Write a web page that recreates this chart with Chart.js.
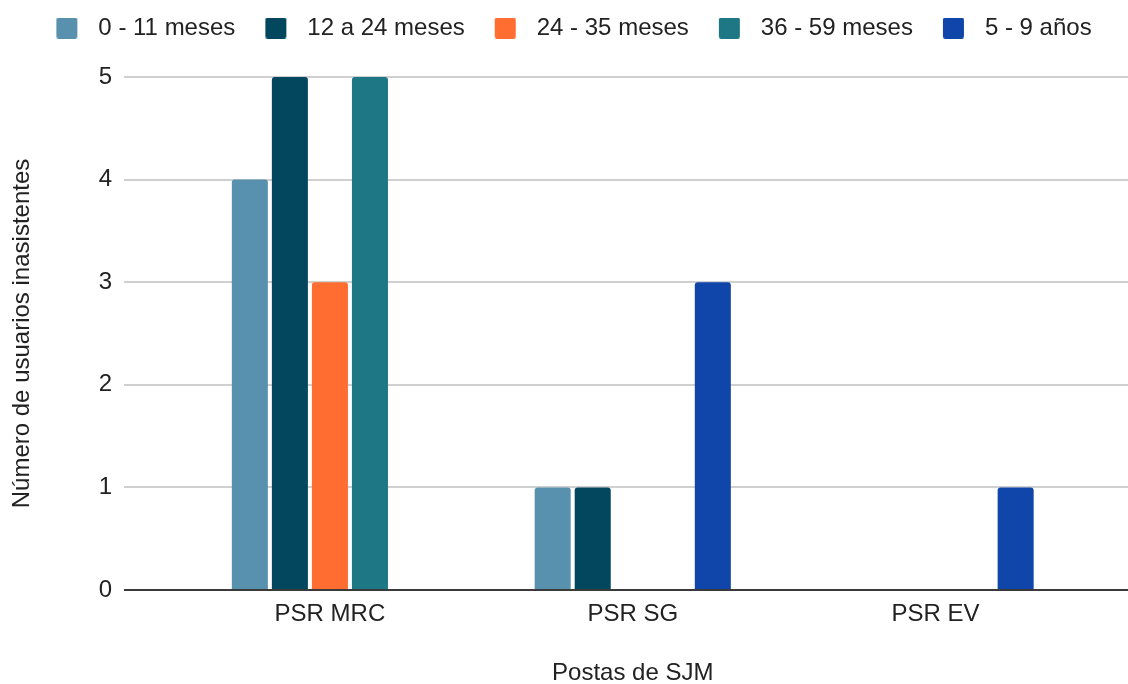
<!DOCTYPE html>
<html>
<head>
<meta charset="utf-8">
<script src="https://cdn.jsdelivr.net/npm/chart.js@4/dist/chart.umd.min.js"></script>
<style>
  html, body { margin: 0; padding: 0; background: #ffffff; }
  canvas { display: block; }
</style>
</head>
<body>
<canvas id="chart" width="1128" height="684"></canvas>
<script>
// Inasistentes por posta y grupo de edad
const categories = ['PSR MRC', 'PSR SG', 'PSR EV'];
const seriesNames = ['0 - 11 meses', '12 a 24 meses', '24 - 35 meses', '36 - 59 meses', '5 - 9 años'];
const meses0a11 = [4, 1, 0];
const meses12a24 = [5, 1, 0];
const meses24a35 = [3, 0, 0];
const meses36a59 = [5, 0, 0];
const anios5a9 = [0, 3, 1];
const yTickValues = [0, 1, 2, 3, 4, 5];

const seriesValues = [meses0a11, meses12a24, meses24a35, meses36a59, anios5a9];
const seriesColors = ['#5891ae', '#03475f', '#ff6d31', '#1d7785', '#1045a9'];

const FONT = '"Liberation Sans", Arial, sans-serif';
const TEXT = '#222222';
const GRID = '#d0d0d0';
const BASELINE = '#3a3a3a';

// Legend swatch: a rounded square with blank margins so spacing around it is controlled
function swatch(color) {
  const lead = 20, size = 21, trail = 9;
  const c = document.createElement('canvas');
  c.width = lead + size + trail;
  c.height = size;
  const g = c.getContext('2d');
  g.fillStyle = color;
  g.beginPath();
  g.roundRect(lead, 0, size, size, 2);
  g.fill();
  return c;
}
const swatches = seriesColors.map(swatch);

// Fixed legend band height so the plot starts where intended
const legendBand = {
  id: 'legendBand',
  beforeUpdate(chart) {
    const lg = chart.legend;
    if (lg && !lg.$bandFixed) {
      const fit = lg.fit;
      lg.fit = function () { fit.call(this); this.height = 71; };
      lg.$bandFixed = true;
    }
  }
};

const gridColor = (ctx) => (ctx.tick && ctx.tick.value === 0 ? BASELINE : GRID);

new Chart(document.getElementById('chart'), {
  type: 'bar',
  data: {
    labels: categories,
    datasets: seriesNames.map((name, i) => ({
      label: name,
      data: seriesValues[i],
      backgroundColor: seriesColors[i],
      borderWidth: 0,
      borderRadius: { topLeft: 3, topRight: 3, bottomLeft: 0, bottomRight: 0 },
      borderSkipped: 'bottom',
      barPercentage: 0.9,
      categoryPercentage: 0.661
    }))
  },
  options: {
    responsive: false,
    animation: false,
    devicePixelRatio: 1,
    layout: { padding: { top: 6, left: 0, right: 0, bottom: 0 } },
    plugins: {
      tooltip: { enabled: false },
      legend: {
        position: 'top',
        align: 'center',
        labels: {
          usePointStyle: true,
          pointStyleWidth: 50,
          padding: 10,
          color: TEXT,
          font: { family: FONT, size: 24 },
          generateLabels(chart) {
            const items = Chart.defaults.plugins.legend.labels.generateLabels(chart);
            items.forEach((it, i) => { it.pointStyle = swatches[i]; });
            return items;
          }
        }
      }
    },
    scales: {
      x: {
        type: 'category',
        grid: { display: false, drawTicks: false },
        border: { display: false },
        ticks: { color: TEXT, font: { family: FONT, size: 24 }, padding: 10, maxRotation: 0 },
        title: {
          display: true,
          text: 'Postas de SJM',
          color: TEXT,
          font: { family: FONT, size: 24, lineHeight: 1 },
          padding: { top: 0, bottom: -1 }
        },
        afterFit(scale) { scale.height = 94; }
      },
      y: {
        position: 'left',
        min: 0,
        max: 5,
        afterBuildTicks(scale) { scale.ticks = yTickValues.map(v => ({ value: v })); },
        grid: {
          color: gridColor,
          tickColor: gridColor,
          lineWidth: 2,
          tickWidth: 2,
          drawTicks: true,
          tickLength: 54.5
        },
        border: { display: false },
        ticks: { color: TEXT, font: { family: FONT, size: 24 }, padding: 12 },
        title: {
          display: true,
          text: 'Número de usuarios inasistentes',
          color: TEXT,
          font: { family: FONT, size: 24, lineHeight: 1 },
          padding: { top: 10, bottom: 0 }
        },
        afterFit(scale) { scale.width = 178.5; }
      },
      yRight: {
        position: 'right',
        min: 0,
        max: 5,
        afterBuildTicks(scale) { scale.ticks = yTickValues.map(v => ({ value: v })); },
        grid: {
          drawOnChartArea: false,
          color: gridColor,
          tickColor: gridColor,
          lineWidth: 2,
          tickWidth: 2,
          drawTicks: true,
          tickLength: 41
        },
        border: { display: false },
        ticks: { display: false },
        afterFit(scale) { scale.width = 41; }
      }
    }
  },
  plugins: [legendBand]
});
</script>
</body>
</html>
